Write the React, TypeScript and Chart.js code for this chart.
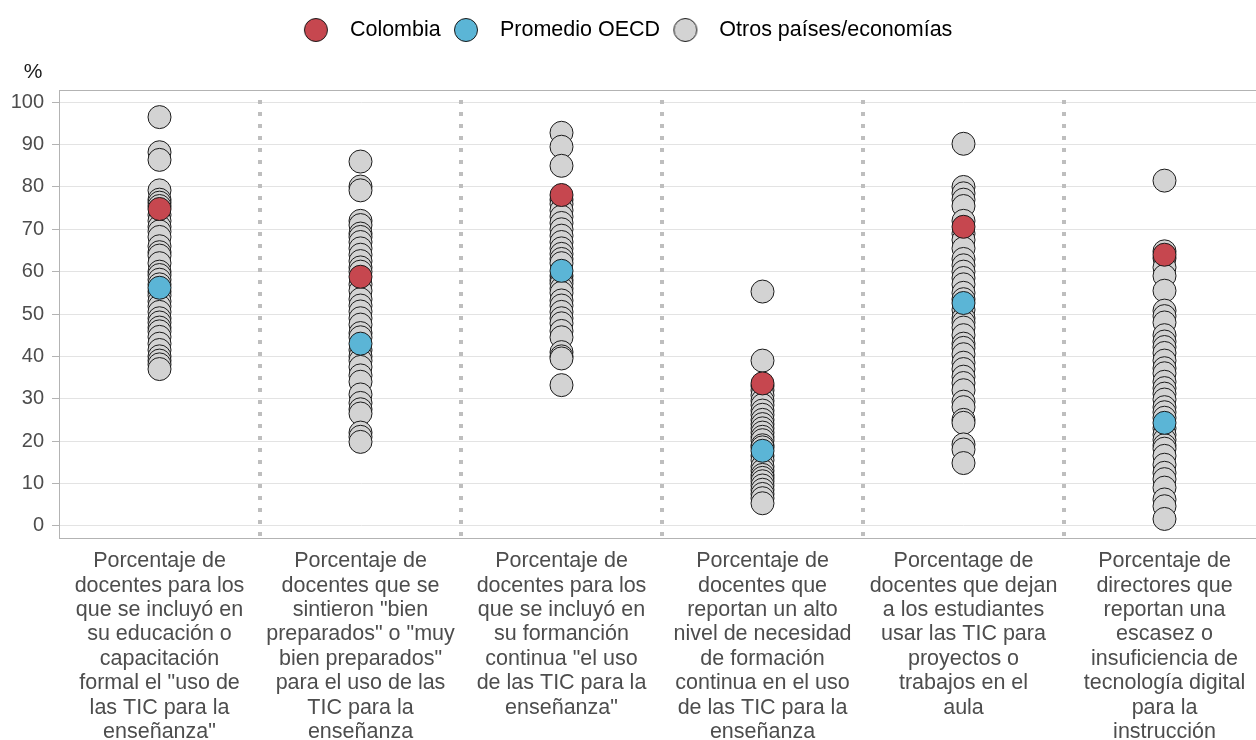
import React, { useEffect, useRef } from "react";
import { Chart, registerables } from "chart.js";

Chart.register(...registerables);

const categoryLabels: string[][] = [
  ["Porcentaje de", "docentes para los", "que se incluyó en", "su educación o", "capacitación", "formal el \"uso de", "las TIC para la", "enseñanza\""],
  ["Porcentaje de", "docentes que se", "sintieron \"bien", "preparados\" o \"muy", "bien preparados\"", "para el uso de las", "TIC para la", "enseñanza"],
  ["Porcentaje de", "docentes para los", "que se incluyó en", "su formanción", "continua \"el uso", "de las TIC para la", "enseñanza\""],
  ["Porcentaje de", "docentes que", "reportan un alto", "nivel de necesidad", "de formación", "continua en el uso", "de las TIC para la", "enseñanza"],
  ["Porcentage de", "docentes que dejan", "a los estudiantes", "usar las TIC para", "proyectos o", "trabajos en el", "aula"],
  ["Porcentaje de", "directores que", "reportan una", "escasez o", "insuficiencia de", "tecnología digital", "para la", "instrucción"],
];

const seriesNames = ["Colombia", "Promedio OECD", "Otros países/economías"];

const colombia = [74.8, 58.8, 78.1, 33.6, 70.6, 64.0];
const oecd = [56.2, 43.0, 60.2, 17.7, 52.6, 24.3];

const otros1 = [96.5, 88.2, 86.4, 79.2, 77.0, 76.3, 75.5, 73.4, 72.0, 70.6, 69.5, 68.2, 66.0, 64.6, 63.8, 62.0, 60.0, 59.2, 58.1, 57.0, 55.3, 54.4, 53.0, 51.8, 50.5, 49.0, 48.0, 46.8, 45.9, 44.6, 43.0, 41.5, 40.0, 39.0, 38.1, 37.0];
const otros2 = [86.0, 80.1, 79.2, 72.0, 71.0, 69.0, 68.2, 67.0, 65.5, 64.0, 62.5, 61.0, 60.0, 57.0, 55.5, 53.5, 52.0, 50.6, 49.0, 47.5, 45.5, 44.5, 41.5, 40.0, 39.0, 37.5, 35.5, 34.0, 31.0, 29.0, 27.5, 26.5, 22.0, 21.0, 19.8];
const otros3 = [92.8, 89.5, 85.0, 77.0, 76.0, 74.5, 73.0, 71.5, 70.0, 68.5, 67.0, 65.5, 64.2, 63.0, 62.0, 59.0, 58.0, 57.2, 56.0, 55.0, 53.2, 52.0, 50.5, 49.0, 47.8, 46.0, 44.5, 41.0, 40.0, 39.5, 33.2];
const otros4 = [55.3, 39.0, 33.0, 32.0, 30.8, 29.5, 28.5, 27.2, 26.2, 25.0, 24.0, 23.0, 22.0, 21.0, 20.2, 19.0, 18.5, 16.5, 15.5, 14.0, 13.0, 12.0, 11.3, 10.5, 9.5, 8.5, 7.5, 6.5, 5.3];
const otros5 = [90.2, 80.0, 78.5, 77.0, 75.5, 72.0, 69.0, 67.5, 65.5, 63.0, 61.5, 60.0, 58.5, 57.0, 55.0, 53.5, 51.0, 49.0, 48.0, 46.8, 45.0, 43.0, 42.0, 40.5, 38.5, 37.0, 35.2, 33.7, 32.0, 29.3, 28.0, 25.0, 24.3, 19.2, 18.0, 14.8];
const otros6 = [81.5, 64.8, 63.2, 61.0, 59.0, 55.5, 50.8, 49.5, 48.0, 45.0, 43.5, 42.2, 40.8, 39.0, 37.2, 36.0, 34.0, 32.5, 31.2, 29.8, 28.0, 26.8, 25.5, 23.0, 21.5, 20.3, 19.0, 18.2, 16.5, 14.4, 12.5, 11.0, 9.0, 6.2, 4.6, 1.6];
const otrosCols = [otros1, otros2, otros3, otros4, otros5, otros6];

const yTicks = [0, 10, 20, 30, 40, 50, 60, 70, 80, 90, 100];

const COLORS = ["#C6474F", "#5BB5D6", "#D3D3D3"];
const FONT = '"Liberation Sans", Arial, sans-serif';

function makeDot(color: string) {
  const c = document.createElement("canvas");
  c.width = 26;
  c.height = 26;
  const g = c.getContext("2d")!;
  g.beginPath();
  g.arc(13, 13, 11.5, 0, Math.PI * 2);
  g.fillStyle = color;
  g.fill();
  g.lineWidth = 1;
  g.strokeStyle = "#1a1a1a";
  g.stroke();
  return c;
}

export default function App() {
  const ref = useRef<HTMLCanvasElement | null>(null);

  useEffect(() => {
    if (!ref.current) return;
    Chart.defaults.font.family = FONT;
    const dots = COLORS.map(makeDot);

    const toPoints = (vals: number[]) => vals.map((v, i) => ({ x: i + 1, y: v }));
    const otrosPts = otrosCols.flatMap((col, i) => col.map((v) => ({ x: i + 1, y: v })));

    const extras = {
      id: "extras",
      beforeInit(chart: any) {
        const legend = chart.legend;
        if (legend) {
          const orig = legend.fit;
          legend.fit = function () {
            orig.call(this);
            this.height = 72.75;
          };
        }
      },
      afterLayout(chart: any) {
        if (chart.legend) chart.legend.right = chart.legend.right - 20;
      },
      beforeDatasetsDraw(chart: any) {
        const { ctx, chartArea } = chart;
        const xs = chart.scales.x;
        ctx.save();
        ctx.strokeStyle = "#BEBEBE";
        ctx.lineWidth = 4;
        ctx.setLineDash([4, 8]);
        for (let i = 1; i < categoryLabels.length; i++) {
          const px = Math.round(xs.getPixelForValue(i + 0.5));
          ctx.beginPath();
          ctx.moveTo(px, chartArea.top + 10);
          ctx.lineTo(px, chartArea.bottom);
          ctx.stroke();
        }
        ctx.setLineDash([]);
        ctx.lineWidth = 1;
        ctx.strokeStyle = "#B3B3B3";
        ctx.strokeRect(chartArea.left + 0.5, chartArea.top + 0.5, chartArea.right - chartArea.left, chartArea.bottom - chartArea.top);
        ctx.restore();
      },
      afterDraw(chart: any) {
        const { ctx, chartArea } = chart;
        ctx.save();
        ctx.fillStyle = "#1a1a1a";
        ctx.font = `21px ${FONT}`;
        ctx.textAlign = "center";
        ctx.textBaseline = "middle";
        ctx.fillText("%", chartArea.left - 26, chartArea.top - 18);
        ctx.restore();
      },
    };

    const chart = new Chart(ref.current, {
      type: "scatter",
      data: {
        datasets: [
          { label: seriesNames[0], data: toPoints(colombia), backgroundColor: COLORS[0], borderColor: "#1a1a1a", borderWidth: 1, pointRadius: 11.5 },
          { label: seriesNames[1], data: toPoints(oecd), backgroundColor: COLORS[1], borderColor: "#1a1a1a", borderWidth: 1, pointRadius: 11.5 },
          { label: seriesNames[2], data: otrosPts, backgroundColor: COLORS[2], borderColor: "#1a1a1a", borderWidth: 1, pointRadius: 11.5 },
        ],
      },
      options: {
        responsive: false,
        animation: false,
        devicePixelRatio: 1,
        layout: { autoPadding: false, padding: { top: 17.25, left: 0, right: 0, bottom: 0 } },
        plugins: {
          tooltip: { enabled: false },
          legend: {
            position: "top",
            labels: {
              usePointStyle: true,
              pointStyleWidth: 46.5,
              boxHeight: 16,
              padding: 2,
              color: "#000",
              font: { size: 21.5, family: FONT },
              generateLabels: (ch: any) =>
                ch.data.datasets.map((ds: any, i: number) => ({
                  text: ds.label,
                  pointStyle: dots[i],
                  fillStyle: COLORS[i],
                  strokeStyle: "#1a1a1a",
                  lineWidth: 1,
                  hidden: false,
                  datasetIndex: i,
                  fontColor: "#000",
                })),
            },
          },
        },
        scales: {
          x: {
            type: "linear",
            min: 0.5,
            max: 6.5,
            grid: { display: false, drawTicks: false },
            border: { display: false },
            afterBuildTicks: (s: any) => {
              s.ticks = categoryLabels.map((_, i) => ({ value: i + 1 }));
            },
            afterFit: (s: any) => {
              s.height = 208;
            },
            ticks: {
              autoSkip: false,
              maxRotation: 0,
              padding: 11,
              color: "#4D4D4D",
              font: { size: 21.5, lineHeight: 1.135 },
              callback: (_v: any, i: number) => categoryLabels[i],
            },
          },
          y: {
            min: -2.9,
            max: 102.9,
            afterBuildTicks: (s: any) => {
              s.ticks = yTicks.map((v) => ({ value: v }));
            },
            afterFit: (s: any) => {
              s.width = 59;
            },
            grid: { color: "#E3E3E3", tickColor: "#B3B3B3", tickLength: 7, lineWidth: 1 },
            border: { display: true, color: "#B3B3B3" },
            ticks: { padding: 8, color: "#4D4D4D", font: { size: 20 } },
          },
        },
      },
      plugins: [extras],
    } as any);

    return () => chart.destroy();
  }, []);

  return (
    <div style={{ position: "fixed", left: 0, top: 0, width: 1256, height: 740, overflow: "hidden", background: "#fff" }}>
      <canvas ref={ref} width={1265} height={746} style={{ display: "block", width: 1265, height: 746 }} />
    </div>
  );
}
